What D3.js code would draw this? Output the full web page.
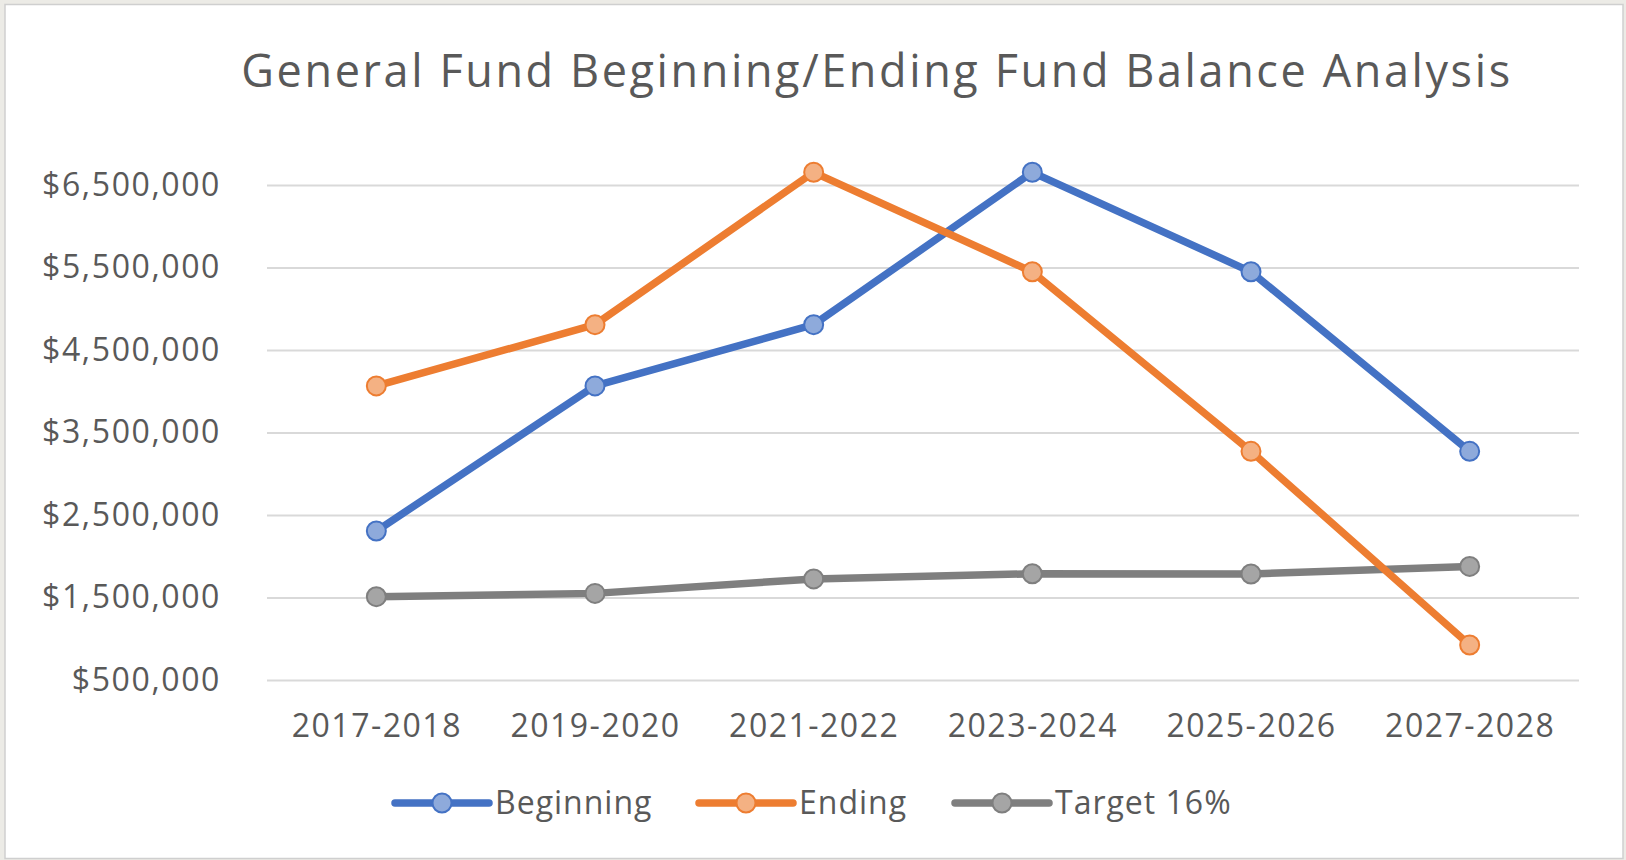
<!DOCTYPE html>
<html>
<head>
<meta charset="utf-8">
<script src="https://cdn.jsdelivr.net/npm/d3@7"></script>
<style>
  body { margin: 0; background: #ecebe6; }
  svg { display: block; font-family: "Open Sans", sans-serif; }
</style>
</head>
<body>
<svg id="chart"></svg>
<script>
// data
const years = ["2017-2018", "2019-2020", "2021-2022", "2023-2024", "2025-2026", "2027-2028"];
const beginning = [2306000, 4065000, 4807000, 6654000, 5448000, 3272000];
const ending = [4065000, 4807000, 6654000, 5448000, 3272000, 924000];
const target = [1510000, 1550000, 1725000, 1788000, 1785000, 1877000];
const yTicks = [500000, 1500000, 2500000, 3500000, 4500000, 5500000, 6500000];
const seriesNames = ["Beginning", "Ending", "Target 16%"];

const colors = ["#4472c4", "#ed7d31", "#7f7f7f"];
const fills = ["#8eaadb", "#f4b183", "#a5a5a5"];
const textColor = "#595959";

const width = 1626, height = 860;
const plot = {left: 267, right: 1579, top: 185, bottom: 680};

const svg = d3.select("#chart")
              .attr("width", width)
              .attr("height", height);

// chart frame
svg.append("rect")
   .attr("x", 5).attr("y", 4.5)
   .attr("width", 1618).attr("height", 854)
   .attr("fill", "white")
   .attr("stroke", "#cfcfcf")
   .attr("stroke-width", 1.5);

svg.append("text")
   .attr("x", 877).attr("y", 87)
   .attr("text-anchor", "middle")
   .attr("fill", textColor)
   .style("font-size", "45px")
   .style("letter-spacing", "2.6px")
   .text("General Fund Beginning/Ending Fund Balance Analysis");

const xScale = d3.scalePoint().domain(years).range([plot.left, plot.right]).padding(0.5);
const yScale = d3.scaleLinear().domain([500000, 6500000]).range([plot.bottom, plot.top]);

const money = d3.format("$,");

// gridlines + y labels
const yAxis = svg.append("g")
   .attr("transform", `translate(${plot.left},0)`)
   .call(d3.axisLeft(yScale).tickValues(yTicks).tickFormat(money)
           .tickSize(-(plot.right - plot.left)).tickPadding(46));
yAxis.select(".domain").remove();
yAxis.selectAll(".tick line").attr("stroke", "#d9d9d9").attr("stroke-width", 2);
yAxis.selectAll(".tick text")
     .attr("fill", textColor)
     .style("font-size", "32px")
     .style("letter-spacing", "1.6px")
     .style("font-family", "'Open Sans', sans-serif");

// x labels
const xAxis = svg.append("g")
   .attr("transform", `translate(0,${plot.bottom})`)
   .call(d3.axisBottom(xScale).tickSize(0).tickPadding(34));
xAxis.select(".domain").remove();
xAxis.selectAll(".tick text")
     .attr("fill", textColor)
     .style("font-size", "32px")
     .style("letter-spacing", "1.5px")
     .style("font-family", "'Open Sans', sans-serif");

const allSeries = [beginning, ending, target];

const line = d3.line()
               .x((d, i) => xScale(years[i]))
               .y(d => yScale(d));

// draw target first so the others sit on top
[2, 0, 1].forEach(function(s){
    svg.append("path")
       .datum(allSeries[s])
       .attr("fill", "none")
       .attr("stroke", colors[s])
       .attr("stroke-width", 7.5)
       .attr("stroke-linejoin", "round")
       .attr("d", line);

    svg.append("g")
       .selectAll("circle")
       .data(allSeries[s])
       .enter()
       .append("circle")
       .attr("cx", (d, i) => xScale(years[i]))
       .attr("cy", d => yScale(d))
       .attr("r", 9.5)
       .attr("fill", fills[s])
       .attr("stroke", colors[s])
       .attr("stroke-width", 2);
});

// legend
const legendX = [395, 699, 955];
const legendY = 803;
const legend = svg.append("g")
   .selectAll("g")
   .data(seriesNames)
   .enter()
   .append("g")
   .attr("transform", (d, i) => `translate(${legendX[i]},${legendY})`);

legend.append("line")
      .attr("x1", 0).attr("x2", 94)
      .attr("stroke", (d, i) => colors[i])
      .attr("stroke-width", 7.5)
      .attr("stroke-linecap", "round");
legend.append("circle")
      .attr("cx", 47).attr("r", 9.5)
      .attr("fill", (d, i) => fills[i])
      .attr("stroke", (d, i) => colors[i])
      .attr("stroke-width", 2);
legend.append("text")
      .attr("x", 100).attr("y", 11)
      .attr("fill", textColor)
      .style("font-size", "32px")
      .style("letter-spacing", "1px")
      .text(d => d);
</script>
</body>
</html>
